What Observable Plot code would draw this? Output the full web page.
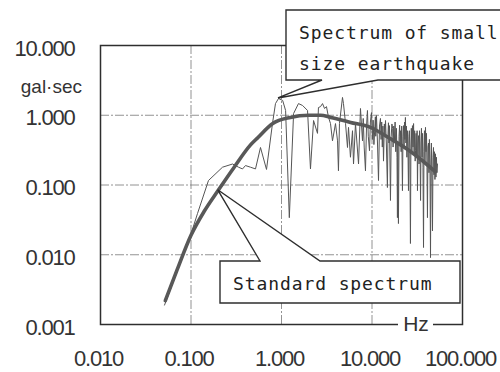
<!DOCTYPE html>
<html>
<head>
<meta charset="utf-8">
<script src="https://cdn.jsdelivr.net/npm/d3@7"></script>
<script src="https://cdn.jsdelivr.net/npm/@observablehq/plot@0.6"></script>
<style>
  body { margin: 0; background: #fff; }
  #chart { width: 500px; height: 372px; }
</style>
</head>
<body>
<div id="chart"></div>
<script>
// Axis ticks (log decades)
const xTicks = [0.01, 0.1, 1, 10, 100];
const yTicks = [0.001, 0.01, 0.1, 1, 10];

// Standard (model) spectrum
const standardHz  = [0.052, 0.07, 0.1, 0.14, 0.2, 0.3, 0.45, 0.55, 0.8, 1.25, 2.0, 2.7, 3.5, 5.8, 9.6, 16, 25, 35, 50];
const standardAmp = [0.0022, 0.006, 0.019, 0.042, 0.084, 0.18, 0.37, 0.48, 0.76, 0.93, 1.0, 1.0, 0.93, 0.79, 0.67, 0.46, 0.32, 0.23, 0.155];

// Observed spectrum of the small earthquake
const smallHz = [
  0.051, 0.07, 0.099, 0.118, 0.156, 0.223, 0.288, 0.335, 0.371, 0.40, 0.454, 0.516, 0.586, 0.683, 0.795,
  0.858, 0.927, 1.03, 1.11, 1.22, 1.36, 1.54, 1.71, 1.94, 2.09, 2.26, 2.50, 2.56, 2.70, 2.84,
  2.99, 3.14, 3.31, 3.48, 3.66, 3.95, 4.16, 4.26, 4.37, 4.72, 4.84, 5.10, 5.36, 5.50, 5.78,
  6.09, 6.25, 6.57, 7.10, 7.46, 7.85,
  8.0, 8.2, 8.47, 8.7, 8.91, 9.1, 9.38, 9.6, 9.87, 10.1, 10.3, 10.5, 10.7, 10.9, 11.0,
  11.2, 11.5, 11.8, 12.1, 12.4, 12.6, 12.8, 13.0, 13.2, 13.4, 13.7, 13.9, 14.1, 14.4, 14.8,
  15.0, 15.2, 15.4, 15.6, 16.0, 16.3, 16.6, 16.9, 17.1, 17.4, 17.7, 18.0, 18.3, 18.6, 18.9,
  19.1, 19.3, 19.6, 19.9, 20.2, 20.4, 20.7, 21.0, 21.3, 21.7, 22.0, 22.3, 22.6, 22.9, 23.1,
  23.4, 23.7, 24.0, 24.3, 24.7, 25.0, 25.3, 25.6, 25.9, 26.2, 26.6, 26.9, 27.2, 27.6, 28.0,
  28.4, 28.8, 29.2, 29.6, 30.0, 30.3, 30.7, 31.1, 31.5, 31.8, 32.2, 32.7, 33.1, 33.5, 34.0,
  34.4, 34.8, 35.2, 35.7, 36.2, 36.6, 37.1, 37.5, 38.0, 38.5, 39.0, 39.5, 40.0, 40.5, 41.0,
  41.5, 42.1, 42.6, 43.1, 43.7, 44.3, 44.8, 45.3, 45.9, 46.6, 47.2, 47.8, 48.4, 49.0, 49.6,
  50.3, 50.9, 51.5, 52.2, 52.9
];
const smallAmp = [
  0.0019, 0.0057, 0.019, 0.039, 0.116, 0.18, 0.20, 0.18, 0.17, 0.19, 0.18, 0.17, 0.345, 0.167, 0.76,
  1.47, 1.74, 1.63, 1.17, 0.034, 1.06, 1.47, 1.38, 1.17, 0.17, 0.84, 0.55, 1.29, 1.33, 1.47,
  1.25, 1.33, 0.93, 0.76, 0.43, 0.76, 0.43, 0.16, 0.76, 1.80, 1.47, 0.76, 0.345, 0.67, 0.25,
  0.60, 0.20, 0.76, 0.20, 1.25, 0.43,
  0.9, 0.35, 0.16, 0.7, 1.17, 0.5, 0.31, 0.8, 1.09, 0.45, 0.85, 0.38, 0.60, 0.95, 0.5,
  0.99, 0.4, 0.116, 0.7, 0.90, 0.45, 0.8, 0.35, 0.7, 0.22, 0.75, 0.5, 0.84, 0.4, 0.092,
  0.5, 0.78, 0.4, 0.71, 0.060, 0.5, 0.75, 0.65, 0.35, 0.7, 0.43, 0.8, 0.3, 0.65, 0.25,
  0.034, 0.4, 0.028, 0.5, 0.72, 0.38, 0.60, 0.3, 0.7, 0.083, 0.5, 0.71, 0.35, 0.8, 0.45,
  0.93, 0.4, 0.7, 0.25, 0.6, 0.3, 0.083, 0.5, 0.60, 0.3, 0.0145, 0.35, 0.65, 0.3, 0.71,
  0.35, 0.76, 0.28, 0.6, 0.22, 0.31, 0.55, 0.25, 0.6, 0.083, 0.4, 0.51, 0.2, 0.6, 0.25,
  0.060, 0.4, 0.65, 0.25, 0.55, 0.18, 0.0127, 0.3, 0.6, 0.22, 0.67, 0.3, 0.55, 0.18, 0.034,
  0.35, 0.40, 0.15, 0.45, 0.2, 0.0091, 0.2, 0.4, 0.13, 0.022, 0.25, 0.345, 0.14, 0.3, 0.12,
  0.28, 0.13, 0.25, 0.15, 0.2
];

const standard = standardHz.map((f, i) => ({f, a: standardAmp[i]}));
const small = smallHz.map((f, i) => ({f, a: smallAmp[i]}));

const ink = "#2e2e2e";
const fmt = d3.format(".3f");
const mono = "'DejaVu Sans Mono', monospace";

// Callout boxes with a triangular pointer; drawn through the plot's scales
function callouts(index, {x, y}) {
  const g = d3.create("svg:g");
  const shape = (pts) => g.append("path")
    .attr("d", "M" + pts.map(p => p.join(",")).join("L") + "Z")
    .attr("fill", "#fff").attr("stroke", ink).attr("stroke-width", 1.4)
    .attr("stroke-linejoin", "miter");

  // "Spectrum of small size earthquake" -> peak of the observed spectrum near 1 Hz
  const p1 = [x(0.927), y(1.74)];
  shape([[286, 10], [510, 10], [510, 80], [378, 80], p1, [322, 80], [286, 80]]);
  g.append("text").attr("x", 299).attr("y", 32).text("Spectrum of small");
  g.append("text").attr("x", 299).attr("y", 63).text("size earthquake");

  // "Standard spectrum" -> standard curve at 0.2 Hz
  const p2 = [x(0.2), y(0.084)];
  shape([[220, 261], [260, 261], p2, [320, 261], [460, 261], [460, 303], [220, 303]]);
  g.append("text").attr("x", 233).attr("y", 283).text("Standard spectrum");

  g.selectAll("text")
    .attr("font-family", mono).attr("font-size", 18).attr("letter-spacing", "0.9px")
    .attr("text-anchor", "start")
    .attr("fill", "#222").attr("dominant-baseline", "central");
  return g.node();
}

// Unit labels on the axes
function units(index, {x, y}) {
  const g = d3.create("svg:g").attr("font-family", "'Liberation Sans', Arial, sans-serif").attr("fill", "#333");
  g.append("rect").attr("x", 398).attr("y", 312).attr("width", 35).attr("height", 22).attr("fill", "#fff");
  g.append("text").attr("x", 416).attr("y", 323).attr("text-anchor", "middle")
    .attr("dominant-baseline", "central").attr("font-size", 21).text("Hz");
  g.append("text").attr("x", 82).attr("y", 86).attr("text-anchor", "end")
    .attr("dominant-baseline", "central").attr("font-size", 19).text("gal·sec");
  return g.node();
}

const grid = {stroke: "#777", strokeWidth: 0.8, strokeDasharray: "9,2,2,2"};

const chart = Plot.plot({
  width: 500,
  height: 372,
  marginLeft: 100,
  marginRight: 38,
  marginTop: 45,
  marginBottom: 48,
  style: {fontFamily: "'Liberation Sans', Arial, sans-serif", fontSize: "22px", background: "#fff", color: "#333"},
  x: {type: "log", domain: [0.01, 100]},
  y: {type: "log", domain: [0.001, 10]},
  marks: [
    Plot.ruleX(xTicks.slice(1, -1), grid),
    Plot.ruleY(yTicks.slice(1, -1), grid),
    Plot.frame({stroke: ink, strokeWidth: 1.5}),
    units,
    Plot.line(small, {x: "f", y: "a", stroke: "#555", strokeWidth: 1}),
    Plot.line(standard, {x: "f", y: "a", stroke: "#585858", strokeWidth: 3.6, curve: "monotone-x"}),
    callouts,
    Plot.axisX({ticks: xTicks, tickFormat: fmt, tickSize: 0, tickPadding: 26, dx: -2, label: null}),
    Plot.axisY({ticks: yTicks, tickFormat: fmt, tickSize: 0, tickPadding: 26, dy: 3, label: null})
  ]
});
document.getElementById("chart").append(chart);
d3.select(chart).selectAll("[aria-label^='y-axis'] text, [aria-label^='x-axis'] text").attr("letter-spacing", "-1.2px");
</script>
</body>
</html>
